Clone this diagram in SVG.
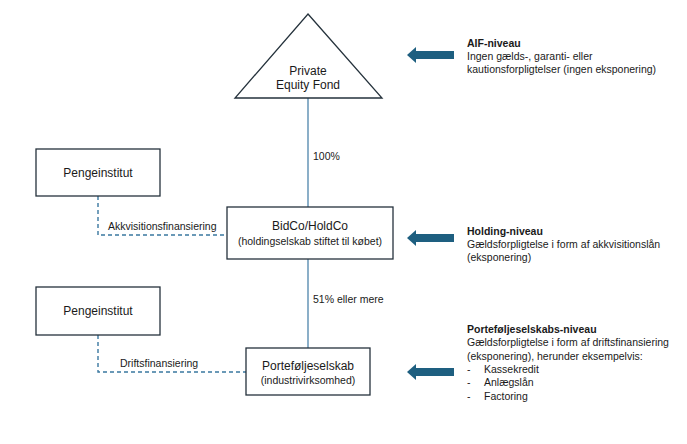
<svg xmlns="http://www.w3.org/2000/svg" width="687" height="444" viewBox="0 0 687 444">
<defs>
<style>
text{font-family:"Liberation Sans",Arial,sans-serif;fill:#1a1a1a}
.box{fill:#fff;stroke:#25323c;stroke-width:1.3}
.solid{stroke:#5b8db1;stroke-width:1.4;fill:none}
.dash{stroke:#3a78a0;stroke-width:1.4;fill:none;stroke-dasharray:4 3}
.arr{fill:#1e5f80}
.t{font-size:12px;text-anchor:middle}
.s{font-size:10.5px;text-anchor:middle}
.lbl{font-size:10.5px}
.r{font-size:10.5px}
.b{font-weight:bold}
</style>
<path id="arrow" d="M0 0 L9 -8 L9 -4 L47 -4 L47 4 L9 4 L9 8 Z"/>
</defs>
<rect width="687" height="444" fill="#fff"/>
<g id="connectors">
<line class="solid" x1="308" y1="98" x2="308" y2="207"/>
<line class="solid" x1="308" y1="259" x2="308" y2="348"/>
<polyline class="dash" points="98,196 98,235 227,235"/>
<polyline class="dash" points="98,335 98,372 246,372"/>
<text class="lbl" x="313" y="160">100%</text>
<text class="lbl" x="313" y="303">51% eller mere</text>
<text class="lbl" x="108" y="230">Akkvisitionsfinansiering</text>
<text class="lbl" x="120" y="367">Driftsfinansiering</text>
</g>
<g id="fund">
<polygon class="box" points="308,14 382,98 235,98"/>
<text class="t" x="308" y="75">Private</text>
<text class="t" x="308" y="89">Equity Fond</text>
</g>
<g id="bank1">
<rect class="box" x="36" y="149" width="124" height="47"/>
<text class="t" x="98" y="177">Pengeinstitut</text>
</g>
<g id="bidco">
<rect class="box" x="227" y="207" width="166" height="52"/>
<text class="t" x="310" y="230">BidCo/HoldCo</text>
<text class="s" x="310" y="245">(holdingselskab stiftet til købet)</text>
</g>
<g id="bank2">
<rect class="box" x="36" y="287" width="124" height="48"/>
<text class="t" x="98" y="315">Pengeinstitut</text>
</g>
<g id="portfolio">
<rect class="box" x="246" y="348" width="124" height="47"/>
<text class="t" x="308" y="370">Porteføljeselskab</text>
<text class="s" x="308" y="384">(industrivirksomhed)</text>
</g>
<g id="aif-level">
<use href="#arrow" class="arr" x="407" y="55"/>
<text class="r b" x="467" y="47">AIF-niveau</text>
<text class="r" x="467" y="60">Ingen gælds-, garanti- eller</text>
<text class="r" x="467" y="73">kautionsforpligtelser (ingen eksponering)</text>
</g>
<g id="holding-level">
<use href="#arrow" class="arr" x="407" y="238"/>
<text class="r b" x="467" y="235">Holding-niveau</text>
<text class="r" x="467" y="248">Gældsforpligtelse i form af akkvisitionslån</text>
<text class="r" x="467" y="261">(eksponering)</text>
</g>
<g id="portfolio-level">
<use href="#arrow" class="arr" x="407" y="372"/>
<text class="r b" x="467" y="333">Porteføljeselskabs-niveau</text>
<text class="r" x="467" y="346">Gældsforpligtelse i form af driftsfinansiering</text>
<text class="r" x="467" y="360">(eksponering), herunder eksempelvis:</text>
<text class="r" x="467" y="373">-</text><text class="r" x="484" y="373">Kassekredit</text>
<text class="r" x="467" y="386">-</text><text class="r" x="484" y="386">Anlægslån</text>
<text class="r" x="467" y="400">-</text><text class="r" x="484" y="400">Factoring</text>
</g>
</svg>
